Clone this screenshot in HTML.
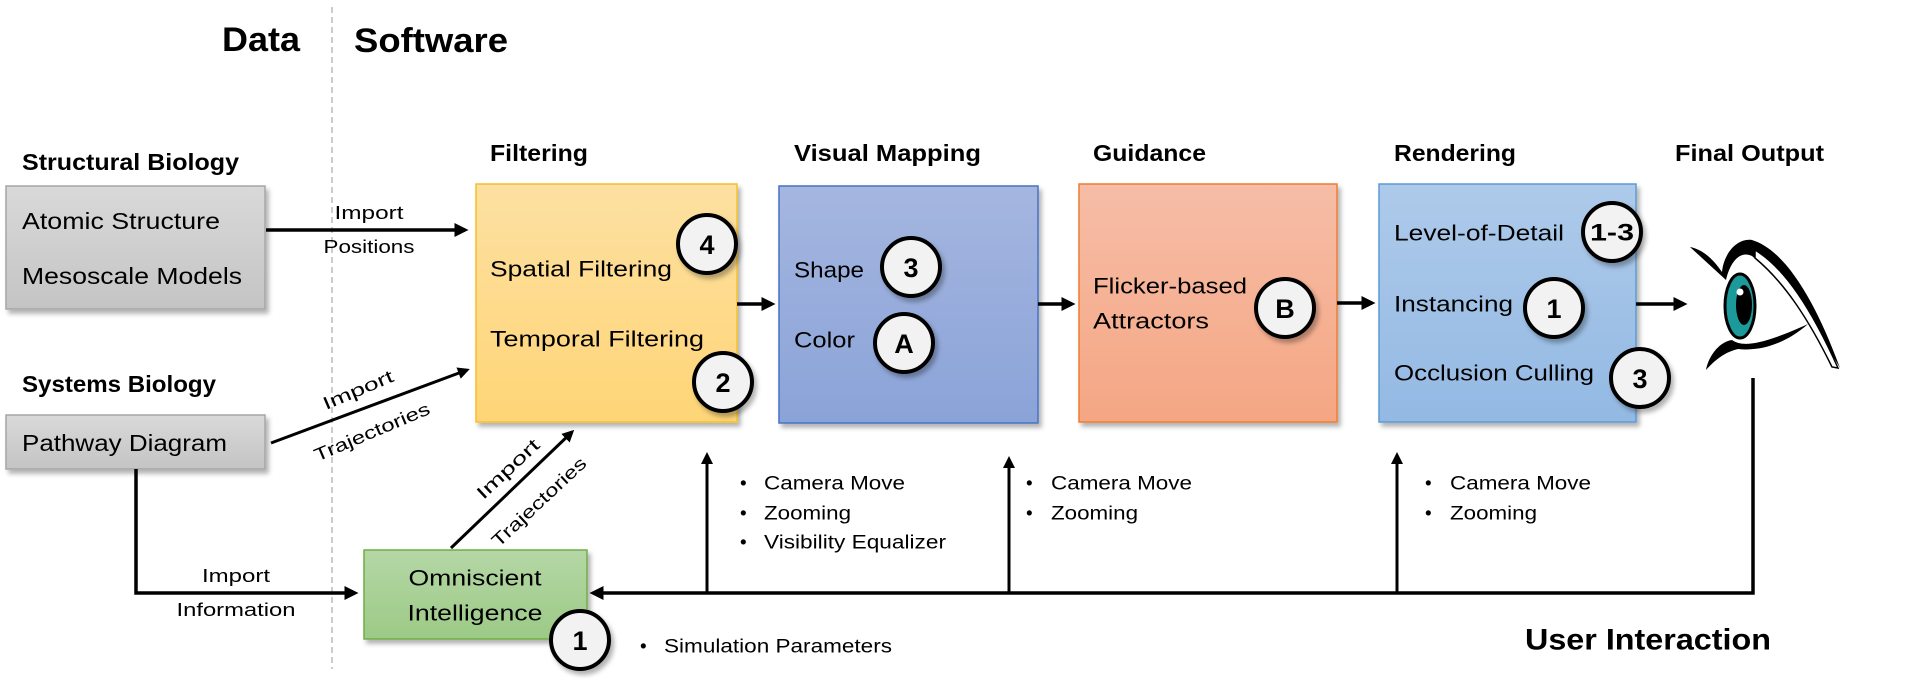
<!DOCTYPE html>
<html><head><meta charset="utf-8"><style>
html,body{margin:0;padding:0;background:#fff;}
svg{display:block;}
text{font-family:"Liberation Sans",sans-serif;fill:#000;}
.b{font-weight:bold;}
</style></head><body>
<svg width="1922" height="697" viewBox="0 0 1922 697" xmlns="http://www.w3.org/2000/svg">
<defs>
<linearGradient id="gGray" x1="0" y1="0" x2="0" y2="1"><stop offset="0" stop-color="#d9d9d9"/><stop offset="1" stop-color="#c4c4c4"/></linearGradient>
<linearGradient id="gYel" x1="0" y1="0" x2="0" y2="1"><stop offset="0" stop-color="#fde0a2"/><stop offset="1" stop-color="#fed576"/></linearGradient>
<linearGradient id="gBlue" x1="0" y1="0" x2="0" y2="1"><stop offset="0" stop-color="#a5b6e0"/><stop offset="1" stop-color="#8aa3d8"/></linearGradient>
<linearGradient id="gOr" x1="0" y1="0" x2="0" y2="1"><stop offset="0" stop-color="#f6bda7"/><stop offset="1" stop-color="#f5a683"/></linearGradient>
<linearGradient id="gRen" x1="0" y1="0" x2="0" y2="1"><stop offset="0" stop-color="#aecaea"/><stop offset="1" stop-color="#93b9e3"/></linearGradient>
<linearGradient id="gGr" x1="0" y1="0" x2="0" y2="1"><stop offset="0" stop-color="#b5d7a6"/><stop offset="1" stop-color="#9cca86"/></linearGradient>
<filter id="sh" x="-10%" y="-10%" width="130%" height="130%"><feDropShadow dx="3" dy="4" stdDeviation="2.5" flood-color="#000" flood-opacity="0.3"/></filter>
<marker id="ah" markerWidth="4" markerHeight="4" refX="3" refY="2" orient="auto" markerUnits="strokeWidth"><path d="M0,0 L4,2 L0,4 z" fill="#000"/></marker>
</defs>

<!-- headers -->
<text class="b" x="222" y="40" font-size="34" dominant-baseline="central" textLength="78" lengthAdjust="spacingAndGlyphs">Data</text>
<text class="b" x="354" y="41" font-size="34" dominant-baseline="central" textLength="154" lengthAdjust="spacingAndGlyphs">Software</text>
<line x1="332" y1="7" x2="332" y2="669" stroke="#999" stroke-width="1" stroke-dasharray="6,4"/>

<!-- data sources -->
<text class="b" x="22" y="162" font-size="23" dominant-baseline="central" textLength="217" lengthAdjust="spacingAndGlyphs">Structural Biology</text>
<rect x="6" y="186" width="259" height="123" fill="url(#gGray)" stroke="#a6a6a6" stroke-width="1.5" filter="url(#sh)"/>
<text x="22" y="221" font-size="23" dominant-baseline="central" textLength="198" lengthAdjust="spacingAndGlyphs">Atomic Structure</text>
<text x="22" y="276" font-size="23" dominant-baseline="central" textLength="220" lengthAdjust="spacingAndGlyphs">Mesoscale Models</text>

<text class="b" x="22" y="384" font-size="23" dominant-baseline="central" textLength="194" lengthAdjust="spacingAndGlyphs">Systems Biology</text>
<rect x="6" y="415" width="259" height="54" fill="url(#gGray)" stroke="#a6a6a6" stroke-width="1.5" filter="url(#sh)"/>
<text x="22" y="443" font-size="23" dominant-baseline="central" textLength="205" lengthAdjust="spacingAndGlyphs">Pathway Diagram</text>

<!-- arrows left -->
<line x1="266" y1="230" x2="465" y2="230" stroke="#000" stroke-width="3.5" marker-end="url(#ah)"/>
<text x="369" y="213" font-size="18" text-anchor="middle" dominant-baseline="central" textLength="69" lengthAdjust="spacingAndGlyphs">Import</text>
<text x="369" y="247" font-size="18" text-anchor="middle" dominant-baseline="central" textLength="91" lengthAdjust="spacingAndGlyphs">Positions</text>

<line x1="271" y1="443" x2="467" y2="370" stroke="#000" stroke-width="3" marker-end="url(#ah)"/>
<text transform="translate(358,390) rotate(-23)" font-size="18" text-anchor="middle" dominant-baseline="central" textLength="75" lengthAdjust="spacingAndGlyphs">Import</text>
<text transform="translate(372,432) rotate(-23)" font-size="18" text-anchor="middle" dominant-baseline="central" textLength="124" lengthAdjust="spacingAndGlyphs">Trajectories</text>

<polyline points="136,469 136,593 355,593" fill="none" stroke="#000" stroke-width="3.5" marker-end="url(#ah)"/>
<text x="236" y="576" font-size="18" text-anchor="middle" dominant-baseline="central" textLength="68" lengthAdjust="spacingAndGlyphs">Import</text>
<text x="236" y="610" font-size="18" text-anchor="middle" dominant-baseline="central" textLength="119" lengthAdjust="spacingAndGlyphs">Information</text>

<!-- green box -->
<rect x="364" y="550" width="223" height="89" fill="url(#gGr)" stroke="#70ad47" stroke-width="1.5" filter="url(#sh)"/>
<text x="475" y="578" font-size="22" text-anchor="middle" dominant-baseline="central" textLength="133" lengthAdjust="spacingAndGlyphs">Omniscient</text>
<text x="475" y="613" font-size="22" text-anchor="middle" dominant-baseline="central" textLength="135" lengthAdjust="spacingAndGlyphs">Intelligence</text>
<line x1="451" y1="548" x2="572" y2="432" stroke="#000" stroke-width="3" marker-end="url(#ah)"/>
<text transform="translate(508,469) rotate(-43)" font-size="18" text-anchor="middle" dominant-baseline="central" textLength="79" lengthAdjust="spacingAndGlyphs">Import</text>
<text transform="translate(539,502) rotate(-43)" font-size="18" text-anchor="middle" dominant-baseline="central" textLength="122" lengthAdjust="spacingAndGlyphs">Trajectories</text>

<!-- stage labels -->
<text class="b" x="490" y="153" font-size="23" dominant-baseline="central" textLength="98" lengthAdjust="spacingAndGlyphs">Filtering</text>
<text class="b" x="794" y="153" font-size="23" dominant-baseline="central" textLength="187" lengthAdjust="spacingAndGlyphs">Visual Mapping</text>
<text class="b" x="1093" y="153" font-size="23" dominant-baseline="central" textLength="113" lengthAdjust="spacingAndGlyphs">Guidance</text>
<text class="b" x="1394" y="153" font-size="23" dominant-baseline="central" textLength="122" lengthAdjust="spacingAndGlyphs">Rendering</text>
<text class="b" x="1675" y="153" font-size="23" dominant-baseline="central" textLength="149" lengthAdjust="spacingAndGlyphs">Final Output</text>

<!-- stage boxes -->
<rect x="476" y="184" width="261" height="238" fill="url(#gYel)" stroke="#f5c02a" stroke-width="1.5" filter="url(#sh)"/>
<text x="490" y="269" font-size="22" dominant-baseline="central" textLength="182" lengthAdjust="spacingAndGlyphs">Spatial Filtering</text>
<text x="490" y="339" font-size="22" dominant-baseline="central" textLength="214" lengthAdjust="spacingAndGlyphs">Temporal Filtering</text>

<rect x="779" y="186" width="259" height="237" fill="url(#gBlue)" stroke="#4472c4" stroke-width="1.5" filter="url(#sh)"/>
<text x="794" y="270" font-size="22" dominant-baseline="central" textLength="70" lengthAdjust="spacingAndGlyphs">Shape</text>
<text x="794" y="340" font-size="22" dominant-baseline="central" textLength="61" lengthAdjust="spacingAndGlyphs">Color</text>

<rect x="1079" y="184" width="258" height="238" fill="url(#gOr)" stroke="#ed7d31" stroke-width="1.5" filter="url(#sh)"/>
<text x="1093" y="286" font-size="22" dominant-baseline="central" textLength="154" lengthAdjust="spacingAndGlyphs">Flicker-based</text>
<text x="1093" y="321" font-size="22" dominant-baseline="central" textLength="116" lengthAdjust="spacingAndGlyphs">Attractors</text>

<rect x="1379" y="184" width="257" height="238" fill="url(#gRen)" stroke="#5b9bd5" stroke-width="1.5" filter="url(#sh)"/>
<text x="1394" y="233" font-size="22" dominant-baseline="central" textLength="170" lengthAdjust="spacingAndGlyphs">Level-of-Detail</text>
<text x="1394" y="304" font-size="22" dominant-baseline="central" textLength="119" lengthAdjust="spacingAndGlyphs">Instancing</text>
<text x="1394" y="373" font-size="22" dominant-baseline="central" textLength="200" lengthAdjust="spacingAndGlyphs">Occlusion Culling</text>

<!-- stage arrows -->
<line x1="737" y1="304" x2="772" y2="304" stroke="#000" stroke-width="3.5" marker-end="url(#ah)"/>
<line x1="1038" y1="304" x2="1072" y2="304" stroke="#000" stroke-width="3.5" marker-end="url(#ah)"/>
<line x1="1337" y1="303" x2="1372" y2="303" stroke="#000" stroke-width="3.5" marker-end="url(#ah)"/>
<line x1="1636" y1="304" x2="1684" y2="304" stroke="#000" stroke-width="3.5" marker-end="url(#ah)"/>

<!-- feedback loop -->
<polyline points="1753,378 1753,593 593,593" fill="none" stroke="#000" stroke-width="3.5" marker-end="url(#ah)"/>
<line x1="707" y1="593" x2="707" y2="455" stroke="#000" stroke-width="3" marker-end="url(#ah)"/>
<line x1="1009" y1="593" x2="1009" y2="459" stroke="#000" stroke-width="3" marker-end="url(#ah)"/>
<line x1="1397" y1="593" x2="1397" y2="455" stroke="#000" stroke-width="3" marker-end="url(#ah)"/>

<!-- bullets -->
<g font-size="19">
<text x="740" y="484" dominant-baseline="central">•</text><text x="764" y="484" dominant-baseline="central" textLength="141" lengthAdjust="spacingAndGlyphs">Camera Move</text>
<text x="740" y="514" dominant-baseline="central">•</text><text x="764" y="514" dominant-baseline="central" textLength="87" lengthAdjust="spacingAndGlyphs">Zooming</text>
<text x="740" y="543" dominant-baseline="central">•</text><text x="764" y="543" dominant-baseline="central" textLength="182" lengthAdjust="spacingAndGlyphs">Visibility Equalizer</text>
</g>
<g font-size="19">
<text x="1026" y="484" dominant-baseline="central">•</text><text x="1051" y="484" dominant-baseline="central" textLength="141" lengthAdjust="spacingAndGlyphs">Camera Move</text>
<text x="1026" y="514" dominant-baseline="central">•</text><text x="1051" y="514" dominant-baseline="central" textLength="87" lengthAdjust="spacingAndGlyphs">Zooming</text>
</g>
<g font-size="19">
<text x="1425" y="484" dominant-baseline="central">•</text><text x="1450" y="484" dominant-baseline="central" textLength="141" lengthAdjust="spacingAndGlyphs">Camera Move</text>
<text x="1425" y="514" dominant-baseline="central">•</text><text x="1450" y="514" dominant-baseline="central" textLength="87" lengthAdjust="spacingAndGlyphs">Zooming</text>
</g>
<text x="640" y="647" font-size="19" dominant-baseline="central">•</text>
<text x="664" y="647" font-size="19" dominant-baseline="central" textLength="228" lengthAdjust="spacingAndGlyphs">Simulation Parameters</text>

<text class="b" x="1525" y="640" font-size="30" dominant-baseline="central" textLength="246" lengthAdjust="spacingAndGlyphs">User Interaction</text>

<!-- badges -->
<g font-size="27" font-weight="bold" text-anchor="middle">
<g><circle cx="707" cy="244" r="29" fill="#f2f2f2" stroke="#000" stroke-width="4" filter="url(#sh)"/><text x="707" y="245" dominant-baseline="central">4</text></g>
<g><circle cx="723" cy="382" r="29" fill="#f2f2f2" stroke="#000" stroke-width="4" filter="url(#sh)"/><text x="723" y="383" dominant-baseline="central">2</text></g>
<g><circle cx="911" cy="267" r="29" fill="#f2f2f2" stroke="#000" stroke-width="4" filter="url(#sh)"/><text x="911" y="268" dominant-baseline="central">3</text></g>
<g><circle cx="904" cy="343" r="29" fill="#f2f2f2" stroke="#000" stroke-width="4" filter="url(#sh)"/><text x="904" y="344" dominant-baseline="central">A</text></g>
<g><circle cx="1285" cy="308" r="29" fill="#f2f2f2" stroke="#000" stroke-width="4" filter="url(#sh)"/><text x="1285" y="309" dominant-baseline="central">B</text></g>
<g><circle cx="1612" cy="232" r="29" fill="#f2f2f2" stroke="#000" stroke-width="4" filter="url(#sh)"/><text x="1612" y="233" dominant-baseline="central" font-size="24" textLength="44" lengthAdjust="spacingAndGlyphs">1-3</text></g>
<g><circle cx="1554" cy="308" r="29" fill="#f2f2f2" stroke="#000" stroke-width="4" filter="url(#sh)"/><text x="1554" y="309" dominant-baseline="central">1</text></g>
<g><circle cx="1640" cy="378" r="29" fill="#f2f2f2" stroke="#000" stroke-width="4" filter="url(#sh)"/><text x="1640" y="379" dominant-baseline="central">3</text></g>
<g><circle cx="580" cy="640" r="29" fill="#f2f2f2" stroke="#000" stroke-width="4" filter="url(#sh)"/><text x="580" y="641" dominant-baseline="central">1</text></g>
</g>

<!-- eye -->
<g>
<path d="M1690,247 C1705,250 1715,262 1722,272 C1724,252 1738,238 1752,240 C1785,250 1815,300 1840,368 C1812,320 1785,283 1752,256 C1740,250 1730,262 1726,280 Z" fill="#000"/>
<path d="M1755,250 C1785,268 1812,310 1838,368 L1832,367 C1808,318 1784,282 1755,258 Z" fill="#fff" stroke="#000" stroke-width="1.5"/>
<ellipse cx="1740" cy="306" rx="15" ry="32" fill="#1c9a9b" stroke="#000" stroke-width="3"/>
<ellipse cx="1744" cy="305" rx="8" ry="20" fill="#000"/>
<circle cx="1740" cy="292" r="3.5" fill="#fff"/>
<path d="M1732,340 C1742,347 1760,346 1808,324 C1790,340 1765,352 1738,349 C1725,352 1715,360 1706,370 C1708,358 1718,342 1732,340 Z" fill="#000"/>
</g>
</svg>
</body></html>
